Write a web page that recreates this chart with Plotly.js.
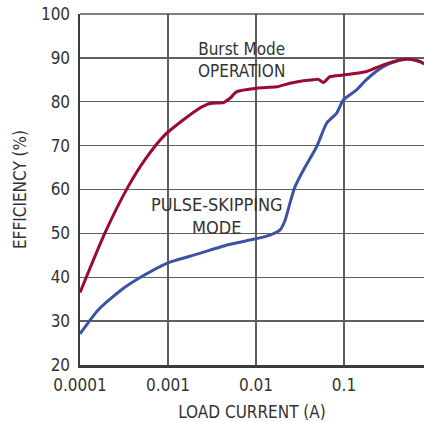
<!DOCTYPE html>
<html>
<head>
<meta charset="utf-8">
<script src="https://cdn.plot.ly/plotly-3.0.1.min.js"></script>
<style>html,body{margin:0;padding:0;background:#fff;}#chart{width:424px;height:422px;}</style>
</head>
<body>
<div id="chart"></div>
<script>
// Load current (A) and efficiency (%)
const burstCurrent = [0.0001, 0.000191, 0.000351, 0.000543, 0.000917, 0.00219, 0.0030, 0.00425, 0.00507, 0.00604, 0.0102, 0.0172, 0.0243, 0.0345, 0.0448, 0.0511, 0.0582, 0.0693, 0.0982, 0.181, 0.280, 0.433, 0.562, 0.731, 0.811];
const burstEff     = [36.5, 50.0, 60.6, 66.7, 72.4, 78.3, 79.6, 79.8, 80.8, 82.3, 83.1, 83.4, 84.2, 84.8, 85.0, 85.1, 84.4, 85.7, 86.1, 86.9, 88.4, 89.5, 89.7, 89.1, 88.7];

const pulseCurrent = [0.0001, 0.000160, 0.000294, 0.000498, 0.001, 0.00201, 0.00481, 0.00966, 0.0144, 0.0188, 0.0214, 0.0243, 0.0277, 0.0345, 0.0490, 0.0635, 0.0826, 0.0982, 0.139, 0.181, 0.280, 0.433, 0.562, 0.731, 0.811];
const pulseEff     = [27.1, 32.5, 37.1, 40.1, 43.3, 45.1, 47.4, 48.7, 49.6, 50.8, 53.0, 56.9, 60.6, 64.4, 69.8, 75.1, 77.4, 80.4, 82.7, 85.1, 88.0, 89.5, 89.7, 89.2, 88.6];

const xTickVals = [0.0001, 0.001, 0.01, 0.1];
const xTickText = ["0.0001", "0.001", "0.01", "0.1"];
const yTickVals = [20, 30, 40, 50, 60, 70, 80, 90, 100];

const labelBurst = "Burst Mode<br>OPERATION";
const labelPulse = "PULSE-SKIPPING<br>MODE";
const xTitle = "LOAD CURRENT (A)";
const yTitle = "EFFICIENCY (%)";

const FONT = "'DejaVu Sans Condensed', 'Liberation Sans Narrow', 'Liberation Sans', sans-serif";

const traces = [
  {x: pulseCurrent, y: pulseEff, type: "scatter", mode: "lines",
   line: {color: "#3b53a4", width: 3, shape: "spline", smoothing: 0.6}, hoverinfo: "skip"},
  {x: burstCurrent, y: burstEff, type: "scatter", mode: "lines",
   line: {color: "#9a0a36", width: 3, shape: "spline", smoothing: 0.6}, hoverinfo: "skip"}
];

const layout = {
  width: 424, height: 422,
  margin: {l: 80, r: 0, t: 14, b: 57, pad: 0},
  paper_bgcolor: "#fff", plot_bgcolor: "#fff",
  showlegend: false,
  font: {family: FONT, size: 17, color: "#333"},
  xaxis: {
    type: "log", range: [-4, -0.091],
    tickvals: xTickVals, ticktext: xTickText,
    tickfont: {family: FONT, size: 17, color: "#333"},
    showgrid: true, gridcolor: "#5e5e5e", gridwidth: 1.3,
    showline: true, linecolor: "#3a3a3a", linewidth: 2.5,
    ticks: "", ticklabelstandoff: 3,
    zeroline: false, fixedrange: true,
    title: {text: xTitle, font: {family: FONT, size: 17, color: "#333"}, standoff: 12}
  },
  yaxis: {
    range: [20, 100],
    tickvals: yTickVals,
    tickfont: {family: FONT, size: 17, color: "#333"},
    showgrid: true, gridcolor: "#5e5e5e", gridwidth: 1.3,
    showline: true, linecolor: "#3a3a3a", linewidth: 2.5,
    ticks: "", ticklabelstandoff: 4,
    zeroline: false, fixedrange: true,
    title: {text: yTitle, font: {family: FONT, size: 17, color: "#333"}, standoff: 10}
  },
  shapes: [
    {type: "rect", xref: "paper", yref: "paper", x0: 0.3285, x1: 0.6105, y0: 0.806, y1: 0.9345,
     fillcolor: "#fff", line: {width: 0}, layer: "between"},
    {type: "rect", xref: "paper", yref: "paper", x0: 0.1948, x1: 0.6017, y0: 0.3647, y1: 0.4986,
     fillcolor: "#fff", line: {width: 0}, layer: "between"},
    {type: "line", xref: "paper", yref: "paper", x0: 0, x1: 1, y0: 1, y1: 1,
     line: {color: "#555", width: 1.6}, layer: "above"}
  ],
  annotations: [
    {xref: "paper", yref: "paper", x: 0.4695, y: 0.869, text: labelBurst, showarrow: false,
     xanchor: "center", yanchor: "middle", align: "center",
     font: {family: FONT, size: 17, color: "#333"}},
    {xref: "paper", yref: "paper", x: 0.397, y: 0.424, text: labelPulse, showarrow: false,
     xanchor: "center", yanchor: "middle", align: "center",
     font: {family: FONT, size: 18, color: "#333"}}
  ]
};

Plotly.newPlot("chart", traces, layout, {staticPlot: true, displayModeBar: false});
</script>
</body>
</html>
